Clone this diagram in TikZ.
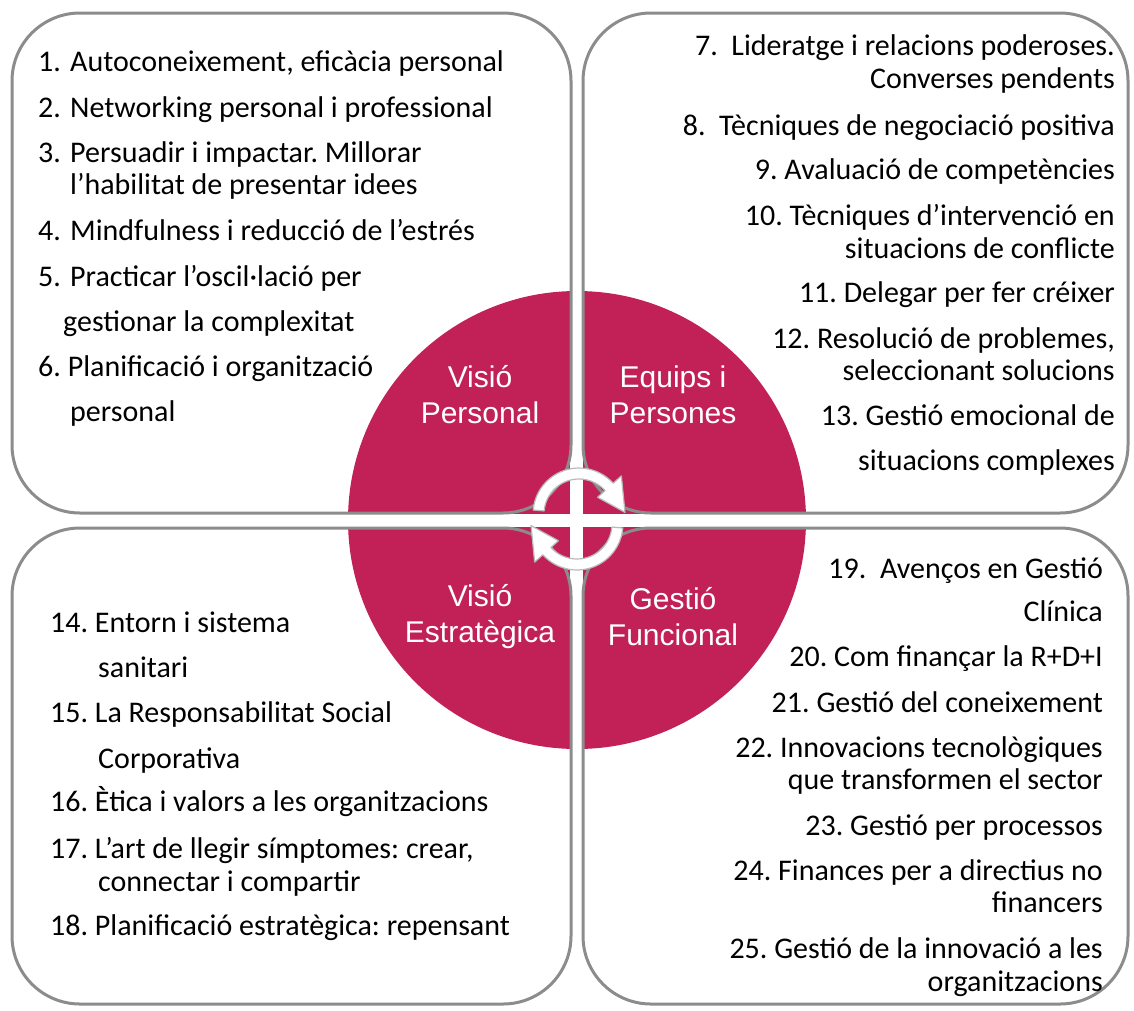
\documentclass[tikz,border=0pt]{standalone}
\usepackage{fontspec}
\setmainfont{Carlito}
\newfontfamily\eixfont{Liberation Sans}
\definecolor{rosa}{RGB}{194,33,87}
\definecolor{vora}{RGB}{140,140,140}
\tikzset{
	caixa/.style={draw=vora, line width=3pt, rounded corners=68pt}, % vora dels quadrants
	tema/.style={font=\fontsize{30}{32}\selectfont, inner sep=0pt, anchor=base west}, % text dels temes
	temadr/.style={tema, anchor=base east}, % temes alineats a la dreta
	eix/.style={font=\eixfont\fontsize{30}{36}\selectfont, text=white, align=center}, % text del cercle
	fletxa/.style={fill=white, draw=gray!55, line width=1.2pt, line join=round} % fletxes del cicle
}
\newcommand{\nr}[1]{\makebox[32pt][l]{#1}}
\frenchspacing

\begin{document}
\begin{tikzpicture}[x=1pt, y=-1pt]
	\useasboundingbox (0,0) rectangle (1134,1010);
	% cercle central
	\fill[rosa] (577,520) circle[radius=229];
	\fill[white] (570,280) rectangle (583,760);
	\fill[white] (340,514) rectangle (815,527);
	% quadrants
	\draw[caixa] (12,13) rectangle (571,513);
	\draw[caixa] (583,13) rectangle (1128,513);
	\draw[caixa] (12,528) rectangle (571,1004);
	\draw[caixa] (583,528) rectangle (1128,1004);
	% eixos
	\node[eix] (vp) at (480,395) {Visió\\Personal};
	\node[eix] (ep) at (673,395) {Equips i\\Persones};
	\node[eix] (ve) at (480,617) {Visió\\Estratègica};
	\node[eix] (gf) at (673,617) {Gestió\\Funcional};
	% fletxes del cicle
	\foreach \gir in {0,180}
		\draw[fletxa, rotate around={\gir:(578,519)}]
			(579,514) ++(185:46) arc[start angle=185, end angle=318, radius=46]
			-- ([shift={(579,514)}]318:57) -- ([shift={(579,514)}]358:46)
			-- ([shift={(579,514)}]318:25) -- ([shift={(579,514)}]318:35)
			arc[start angle=318, end angle=185, radius=35] -- cycle;
	% Visio Personal
	\node[tema] (t1) at (38,71) {\nr{1.}Autoconeixement, eficàcia personal};
	\node[tema] (t2) at (38,117) {\nr{2.}Networking personal i professional};
	\node[tema] (t3) at (38,162) {\nr{3.}Persuadir i impactar. Millorar};
	\node[tema] (t3b) at (70,194) {l’habilitat de presentar idees};
	\node[tema] (t4) at (38,240) {\nr{4.}Mindfulness i reducció de l’estrés};
	\node[tema] (t5) at (38,286) {\nr{5.}Practicar l’oscil·lació per};
	\node[tema] (t5b) at (63,331) {gestionar la complexitat};
	\node[tema] (t6) at (38,376) {6. Planificació i organització};
	\node[tema] (t6b) at (70,421) {personal};
	% Equips i Persones
	\node[temadr] (t7) at (1115,55) {7.~~Lideratge i relacions poderoses.};
	\node[temadr] (t7b) at (1115,88) {Converses pendents};
	\node[temadr] (t8) at (1115,135) {8.~~Tècniques de negociació positiva};
	\node[temadr] (t9) at (1115,179) {9. Avaluació de competències};
	\node[temadr] (t10) at (1115,225) {10. Tècniques d’intervenció en};
	\node[temadr] (t10b) at (1115,258) {situacions de conflicte};
	\node[temadr] (t11) at (1115,302) {11. Delegar per fer créixer};
	\node[temadr] (t12) at (1115,348) {12. Resolució de problemes,};
	\node[temadr] (t12b) at (1115,380) {seleccionant solucions};
	\node[temadr] (t13) at (1115,425) {13. Gestió emocional de};
	\node[temadr] (t13b) at (1115,470) {situacions complexes};
	% Visio Estrategica
	\node[tema] (t14) at (50,632) {14. Entorn i sistema};
	\node[tema] (t14b) at (98,677) {sanitari};
	\node[tema] (t15) at (50,722) {15. La Responsabilitat Social};
	\node[tema] (t15b) at (98,768) {Corporativa};
	\node[tema] (t16) at (50,811) {16. Ètica i valors a les organitzacions};
	\node[tema] (t17) at (50,858) {17. L’art de llegir símptomes: crear,};
	\node[tema] (t17b) at (98,891) {connectar i compartir};
	\node[tema] (t18) at (50,935) {18. Planificació estratègica: repensant};
	% Gestio Funcional
	\node[temadr] (t19) at (1103,578) {19.~~Avenços en Gestió};
	\node[temadr] (t19b) at (1103,621) {Clínica};
	\node[temadr] (t20) at (1103,666) {20. Com finançar la R+D+I};
	\node[temadr] (t21) at (1103,712) {21. Gestió del coneixement};
	\node[temadr] (t22) at (1103,757) {22. Innovacions tecnològiques};
	\node[temadr] (t22b) at (1103,789) {que transformen el sector};
	\node[temadr] (t23) at (1103,835) {23. Gestió per processos};
	\node[temadr] (t24) at (1103,880) {24. Finances per a directius no};
	\node[temadr] (t24b) at (1103,912) {financers};
	\node[temadr] (t25) at (1103,958) {25. Gestió de la innovació a les};
	\node[temadr] (t25b) at (1103,991) {organitzacions};
\end{tikzpicture}
\end{document}
